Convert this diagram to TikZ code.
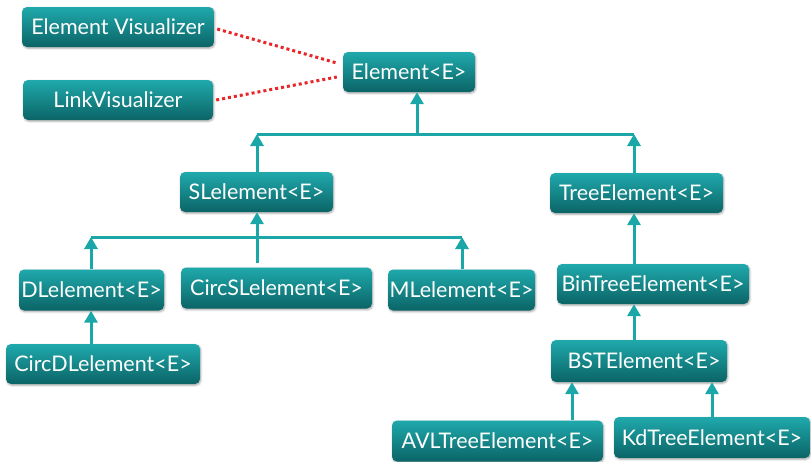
\documentclass[tikz,border=0pt]{standalone}
\usepackage{fontspec}
\setmainfont{Lato}
\usetikzlibrary{arrows.meta,shadows.blur}
\definecolor{boxtop}{HTML}{1FA9AC}
\definecolor{boxbot}{HTML}{0B6466}
\definecolor{linkteal}{HTML}{1BA6A8}
\definecolor{dotred}{HTML}{E8262A}
\tikzset{
  cls/.style={rectangle, rounded corners=5pt, top color=boxtop, bottom color=boxbot,
    draw=none, text=white, font=\fontsize{21.5}{24}\selectfont, inner sep=0pt,
    minimum height=40pt,
    blur shadow={shadow blur steps=6, shadow xshift=0.8pt, shadow yshift=-1.2pt, shadow opacity=35}},
  inh/.style={draw=linkteal, line width=3pt, -{Triangle[width=13pt,length=12pt]}},
  bar/.style={draw=linkteal, line width=3pt},
  viz/.style={draw=dotred, line width=3pt, dash pattern=on 3pt off 3pt},
}
\begin{document}
\begin{tikzpicture}[x=1pt,y=1pt]
\useasboundingbox (0,0) rectangle (811,-461);
% nodes
\node[cls, minimum width=192pt] (ev) at (118,-27) {Element Visualizer};
\node[cls, minimum width=190pt] (lv) at (118,-100) {LinkVisualizer};
\node[cls, minimum width=132pt] (elem) at (409,-72) {Element<E>};
\node[cls, minimum width=153pt] (sl) at (256.5,-192) {SLelement<E>};
\node[cls, minimum width=173pt] (tree) at (636.5,-193) {TreeElement<E>};
\node[cls, minimum width=145pt, minimum height=41pt] (dl) at (91.5,-290) {DLelement<E>};
\node[cls, minimum width=191pt, minimum height=41pt] (csl) at (276.5,-288) {CircSLelement<E>};
\node[cls, minimum width=147pt, minimum height=41pt] (ml) at (461.5,-290) {MLelement<E>};
\node[cls, minimum width=194pt] (cdl) at (103,-364) {CircDLelement<E>};
\node[cls, minimum width=192pt] (bin) at (653,-284) {BinTreeElement<E>};
\node[cls, minimum width=176pt, minimum height=42pt] (bst) at (639,-361) {\hspace*{10pt}BSTElement<E>};
\node[cls, minimum width=211pt, minimum height=41pt] (avl) at (497.5,-441) {AVLTreeElement<E>};
\node[cls, minimum width=196pt, minimum height=41pt] (kd) at (712,-437.5) {KdTreeElement<E>};
% bar coordinates
\coordinate (b1l) at (257,-134);
\coordinate (b1r) at (634,-134);
\coordinate (b1m) at (417,-134);
\coordinate (b2l) at (91,-237);
\coordinate (b2r) at (462,-237);
\coordinate (b2m) at (257,-237);
% visualizer links
\draw[viz] (ev.east) ++(3pt,-2pt) coordinate (eva) -- ([xshift=-6pt,yshift=9pt]elem.west);
\draw[viz] (lv.east) ++(3pt,0pt) coordinate (lva) -- ([xshift=-6pt,yshift=-5pt]elem.west);
% level 1
\draw[bar] (b1l) -- (b1r);
\draw[inh] (b1m) -- (elem.south -| b1m);
\draw[inh] (sl.north -| b1l) -- (b1l);
\draw[inh] (tree.north -| b1r) -- (b1r);
% level 2 (SL children)
\draw[bar] (b2l) -- (b2r);
\draw[inh] (b2m) -- (sl.south -| b2m);
\draw[bar] ([yshift=4pt]csl.north -| b2m) -- (b2m);
\draw[inh] (dl.north -| b2l) -- (b2l);
\draw[inh] (ml.north -| b2r) -- (b2r);
\draw[inh] (cdl.north -| b2l) -- (dl.south -| b2l);
% tree chain
\draw[inh] (bin.north -| b1r) -- (tree.south -| b1r);
\draw[inh] (bst.north -| b1r) -- (bin.south -| b1r);
\coordinate (avlx) at (572,0);
\coordinate (kdx) at (712,0);
\draw[inh] (avl.north -| avlx) -- (bst.south -| avlx);
\draw[inh] (kd.north -| kdx) -- (bst.south -| kdx);
\end{tikzpicture}
\end{document}
